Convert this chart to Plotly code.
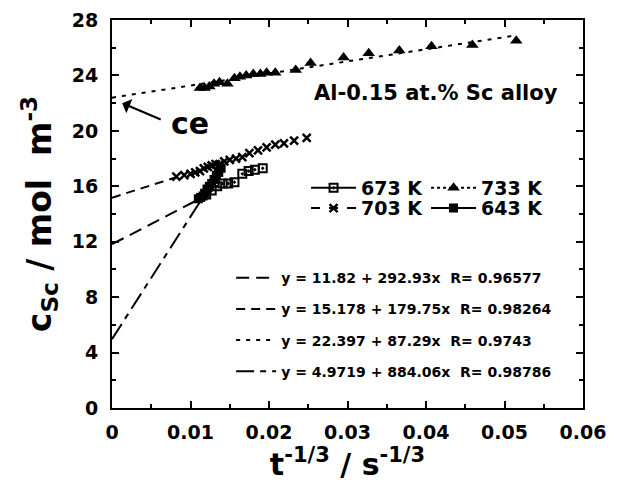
import plotly.graph_objects as go

# ---- data ----
x_673 = [0.0120, 0.0127, 0.0134, 0.0141, 0.0148, 0.0156, 0.0166, 0.0174, 0.0182, 0.0192]
y_673 = [15.4, 15.7, 16.0, 16.2, 16.2, 16.3, 16.9, 17.1, 17.2, 17.3]

x_703 = [0.0082, 0.0092, 0.0100, 0.0106, 0.0112, 0.0117, 0.0122, 0.0127, 0.0132, 0.0137,
         0.0143, 0.0150, 0.0158, 0.0166, 0.0175, 0.0186, 0.0197, 0.0208, 0.0219, 0.0232, 0.0248]
y_703 = [16.7, 16.8, 16.9, 17.0, 17.1, 17.3, 17.4, 17.5, 17.6, 17.6,
         17.8, 17.9, 18.0, 18.1, 18.4, 18.6, 18.8, 19.0, 19.1, 19.3, 19.5]

x_733 = [0.0112, 0.0118, 0.0124, 0.0130, 0.0137, 0.0147, 0.0156, 0.0163, 0.0171, 0.0180,
         0.0189, 0.0197, 0.0208, 0.0234, 0.0253, 0.0295, 0.0327, 0.0366, 0.0407, 0.0459, 0.0515]
y_733 = [23.1, 23.1, 23.2, 23.4, 23.5, 23.4, 23.8, 23.9, 24.0, 24.1,
         24.1, 24.2, 24.2, 24.4, 24.9, 25.3, 25.6, 25.8, 26.1, 26.2, 26.5]

x_643 = [0.0110, 0.0113, 0.0116, 0.0118, 0.0121, 0.0124, 0.0127, 0.0130, 0.0133, 0.0136, 0.0139]
y_643 = [15.1, 15.2, 15.3, 15.5, 15.8, 16.0, 16.2, 16.5, 16.8, 17.0, 17.3]

# linear fits y = a + b x (from the chart), drawn from x=0 to x_end
NB = "\u00a0"
fit_names = ["y = 11.82 + 292.93x" + NB + " R= 0.96577",
             "y = 15.178 + 179.75x" + NB + " R= 0.98264",
             "y = 22.397 + 87.29x" + NB + " R= 0.9743",
             "y = 4.9719 + 884.06x" + NB + " R= 0.98786"]
fit_a = [11.82, 15.178, 22.397, 4.9719]
fit_b = [292.93, 179.75, 87.29, 884.06]
fit_xend = [0.0108, 0.0083, 0.0515, 0.0112]
fit_dash = ["13px,7px", "9px,6px", "4px,6px", "18px,6px,6px,6px"]

series_names = ["673 K", "733 K", "703 K", "643 K"]

x_ticks = [0, 0.01, 0.02, 0.03, 0.04, 0.05, 0.06]
x_ticktext = ["0", "0.01", "0.02", "0.03", "0.04", "0.05", "0.06"]
y_ticks = [0, 4, 8, 12, 16, 20, 24, 28]

FONT = "DejaVu Sans, Liberation Sans, Arial, sans-serif"
BK = "black"

fig = go.Figure()

# fit lines (legend2 = equation list)
for i in range(4):
    xs = [0.0, fit_xend[i]]
    ys = [fit_a[i] + fit_b[i] * x for x in xs]
    fig.add_trace(go.Scatter(x=xs, y=ys, mode="lines", name=fit_names[i],
                             line=dict(color=BK, width=2, dash=fit_dash[i]),
                             legend="legend2", legendgroup="fit%d" % i))

# data markers
data = [
    (x_673, y_673, dict(symbol="square-open-dot", size=8, color=BK, line=dict(width=2, color=BK)), "solid"),
    (x_733, y_733, dict(symbol="triangle-up", size=11, color=BK), "dot"),
    (x_703, y_703, dict(symbol="x-thin", size=8, color=BK, line=dict(width=2.5, color=BK)), "dash"),
    (x_643, y_643, dict(symbol="square", size=9, color=BK), "solid"),
]
for i, (xs, ys, mk, dsh) in enumerate(data):
    fig.add_trace(go.Scatter(x=xs, y=ys, mode="markers", marker=mk, showlegend=False))

# legend entries for the data (two rows)
for i, (xs, ys, mk, dsh) in enumerate(data):
    fig.add_trace(go.Scatter(x=[None], y=[None], mode="lines+markers", name=series_names[i],
                             marker=mk, line=dict(color=BK, width=2, dash=dsh),
                             legend="legend" if i < 2 else "legend3"))

tickfont = dict(family=FONT, size=19, color=BK, weight="bold")
leg_common = dict(orientation="h", bgcolor="rgba(0,0,0,0)", borderwidth=0,
                  font=dict(family=FONT, size=19, color=BK, weight="bold"),
                  xanchor="left", yanchor="middle", itemwidth=45,
                  entrywidthmode="pixels", entrywidth=60, tracegroupgap=0)

fig.update_layout(
    width=619, height=480,
    margin=dict(l=104, r=44, t=12, b=80),
    paper_bgcolor="white", plot_bgcolor="white",
    font=dict(family=FONT, color=BK),
    xaxis=dict(range=[0, 0.06], tickvals=x_ticks, ticktext=x_ticktext,
               ticks="inside", ticklen=7, tickwidth=2, tickcolor=BK, ticklabelstandoff=6,
               minor=dict(dtick=0.005, ticks="inside", ticklen=4, tickwidth=2, tickcolor=BK),
               showline=True, linewidth=2, linecolor=BK, mirror="ticks",
               showgrid=False, zeroline=False, tickfont=tickfont, automargin=False,
               title=dict(text="t<sup>-1/3</sup> / s<sup>-1/3</sup>", standoff=12,
                          font=dict(family=FONT, size=30, color=BK, weight="bold"))),
    yaxis=dict(range=[0, 28], tickvals=y_ticks,
               ticks="inside", ticklen=7, tickwidth=2, tickcolor=BK, ticklabelstandoff=8,
               minor=dict(dtick=2, ticks="inside", ticklen=4, tickwidth=2, tickcolor=BK),
               showline=True, linewidth=2, linecolor=BK, mirror="ticks",
               showgrid=False, zeroline=False, tickfont=tickfont, automargin=False,
               title=dict(text="c<sub>Sc</sub> / mol" + NB + " m<sup>-3</sup>", standoff=10,
                          font=dict(family=FONT, size=33, color=BK, weight="bold"))),
    legend=dict(x=0.412, y=0.567, **leg_common),
    legend3=dict(x=0.412, y=0.515, **leg_common),
    legend2=dict(x=0.253, y=0.376, xanchor="left", yanchor="top", orientation="v",
                 bgcolor="rgba(0,0,0,0)", borderwidth=0, itemwidth=40, tracegroupgap=10,
                 font=dict(family=FONT, size=14, color=BK, weight="bold")),
    annotations=[
        dict(x=0.0413, y=22.7, xref="x", yref="y", text="Al-0.15 at.% Sc alloy", showarrow=False,
             font=dict(family=FONT, size=21, color=BK, weight="bold")),
        dict(x=0.0013, y=22.0, xref="x", yref="y", ax=40, ay=17, text="", showarrow=True,
             arrowhead=1, arrowsize=1.3, arrowwidth=2, arrowcolor=BK),
        dict(x=0.0099, y=20.56, xref="x", yref="y", text="ce", showarrow=False,
             font=dict(family=FONT, size=30, color=BK, weight="bold")),
    ],
)

fig.write_html("out.html")
